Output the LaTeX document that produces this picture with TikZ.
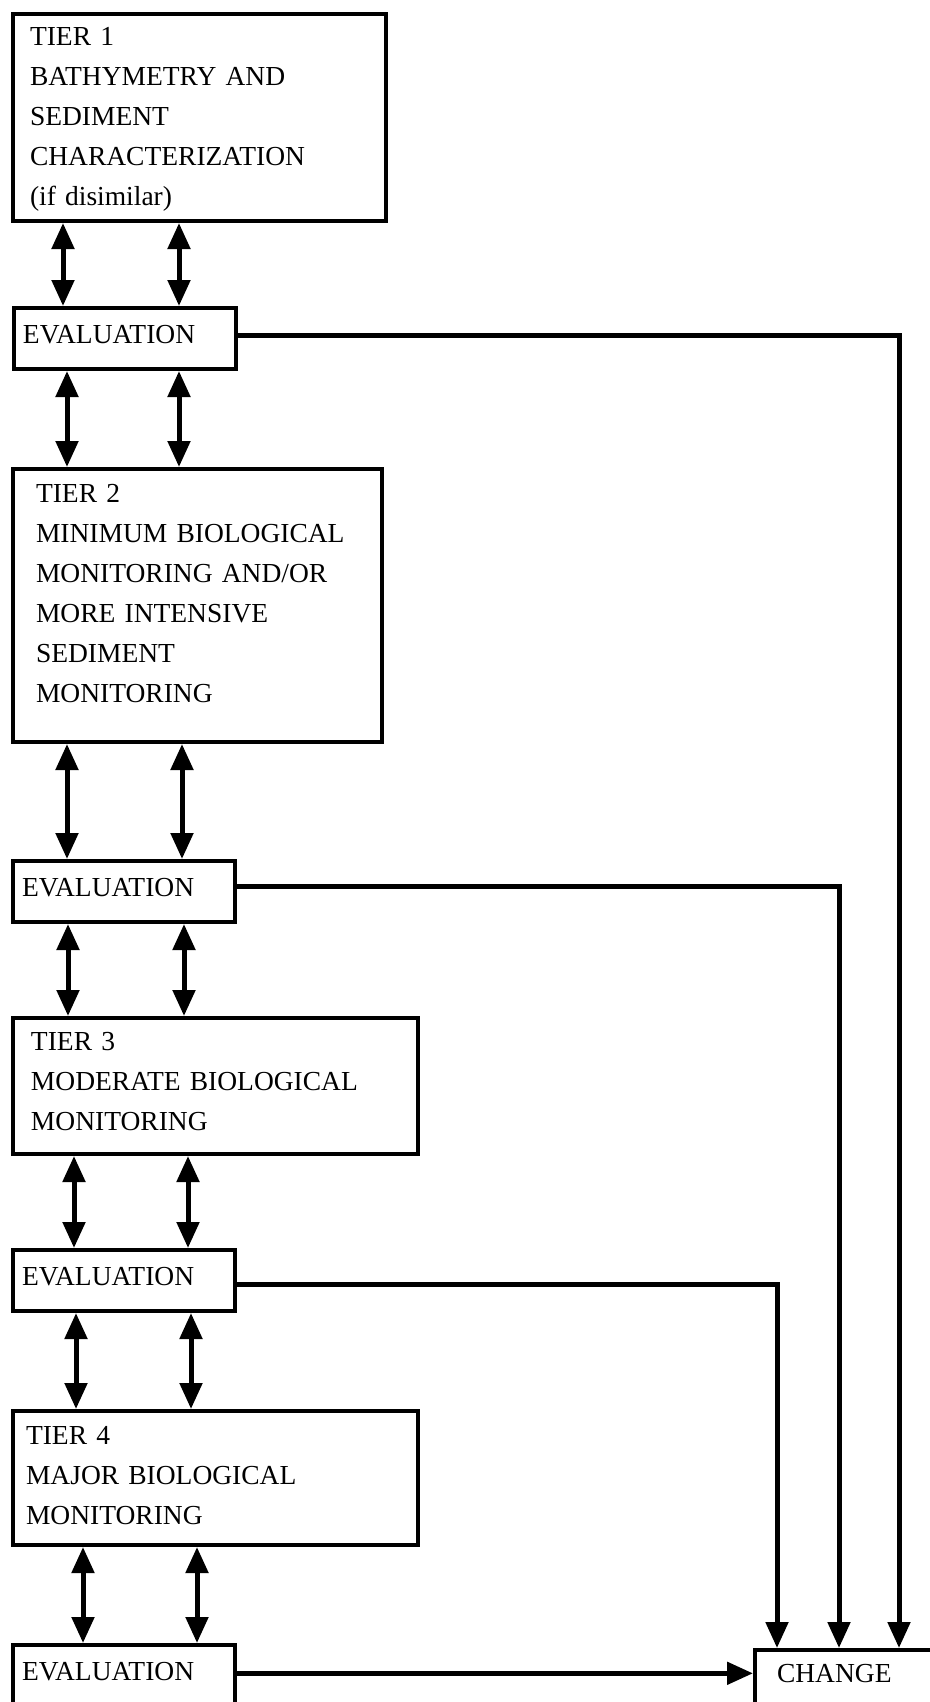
\documentclass[tikz,border=0pt]{standalone}
\usepackage{fontspec}
\setmainfont{Liberation Serif}
\usetikzlibrary{arrows.meta}

\begin{document}
\begin{tikzpicture}[
    x=0.5pt, y=-0.5pt,
    every node/.style={draw, line width=2pt, anchor=north west, align=left, inner ysep=0pt, font=\fontsize{13.75}{20}\selectfont},
    boxh/.style 2 args={text height=#1, text depth=#2},
    evalbox/.style={text width=102pt, inner xsep=4.5pt, boxh={17.8pt}{12.7pt}},
    link/.style={line width=2.5pt, {Triangle[width=11pt,length=13pt]}-{Triangle[width=11pt,length=13pt]}},
    flow/.style={line width=2.5pt, -{Triangle[width=11pt,length=13pt]}}
]
    \useasboundingbox (0,0) rectangle (930,1702);
    \clip (0,0) rectangle (930,1702);

    \node (tierone) [text width=169.5pt, inner xsep=8.5pt, boxh={15.9pt}{87.6pt}] at (11,12)
        {TIER 1\\BATHYMETRY AND\\SEDIMENT\\CHARACTERIZATION\\(if disimilar)};
    \node (evalone) [evalbox] at (12,306) {EVALUATION};
    \node (tiertwo) [text width=161.5pt, inner xsep=11.5pt, boxh={16.8pt}{119.7pt}] at (11,467)
        {TIER 2\\MINIMUM BIOLOGICAL\\MONITORING AND/OR\\MORE INTENSIVE\\SEDIMENT\\MONITORING};
    \node (evaltwo) [evalbox] at (11,859) {EVALUATION};
    \node (tierthree) [text width=184.5pt, inner xsep=9pt, boxh={16pt}{52pt}] at (11,1016)
        {TIER 3\\MODERATE BIOLOGICAL\\MONITORING};
    \node (evalthree) [evalbox] at (11,1248) {EVALUATION};
    \node (tierfour) [text width=189.5pt, inner xsep=6.5pt, boxh={16.8pt}{50.2pt}] at (11,1409)
        {TIER 4\\MAJOR BIOLOGICAL\\MONITORING};
    \node (evalfour) [evalbox] at (11,1643) {EVALUATION};
    \node (change) [text width=73pt, inner xsep=11pt, boxh={16.2pt}{13.8pt}] at (753,1648) {CHANGE};

    % two-way links between the tiers and their evaluations
    \foreach \src/\dst/\xa/\xb in {tierone/evalone/63/179, evalone/tiertwo/67/179,
        tiertwo/evaltwo/67/182, evaltwo/tierthree/68/184, tierthree/evalthree/74/188,
        evalthree/tierfour/76/191, tierfour/evalfour/83/197}
    {
        \draw[link] (\src.south -| \xa,0) -- (\dst.north -| \xa,0);
        \draw[link] (\src.south -| \xb,0) -- (\dst.north -| \xb,0);
    }

    \draw[flow] ([yshift=1.6pt]evalone.east) -| (change.north -| 899,0);
    \draw[flow] ([yshift=2.4pt]evaltwo.east) -| (change.north -| 839,0);
    \draw[flow] ([yshift=-1.9pt]evalthree.east) -| (change.north -| 777,0);
    \draw[flow] ([yshift=1.1pt]evalfour.east) -- ([yshift=1.1pt]evalfour.east -| change.west);
\end{tikzpicture}
\end{document}
